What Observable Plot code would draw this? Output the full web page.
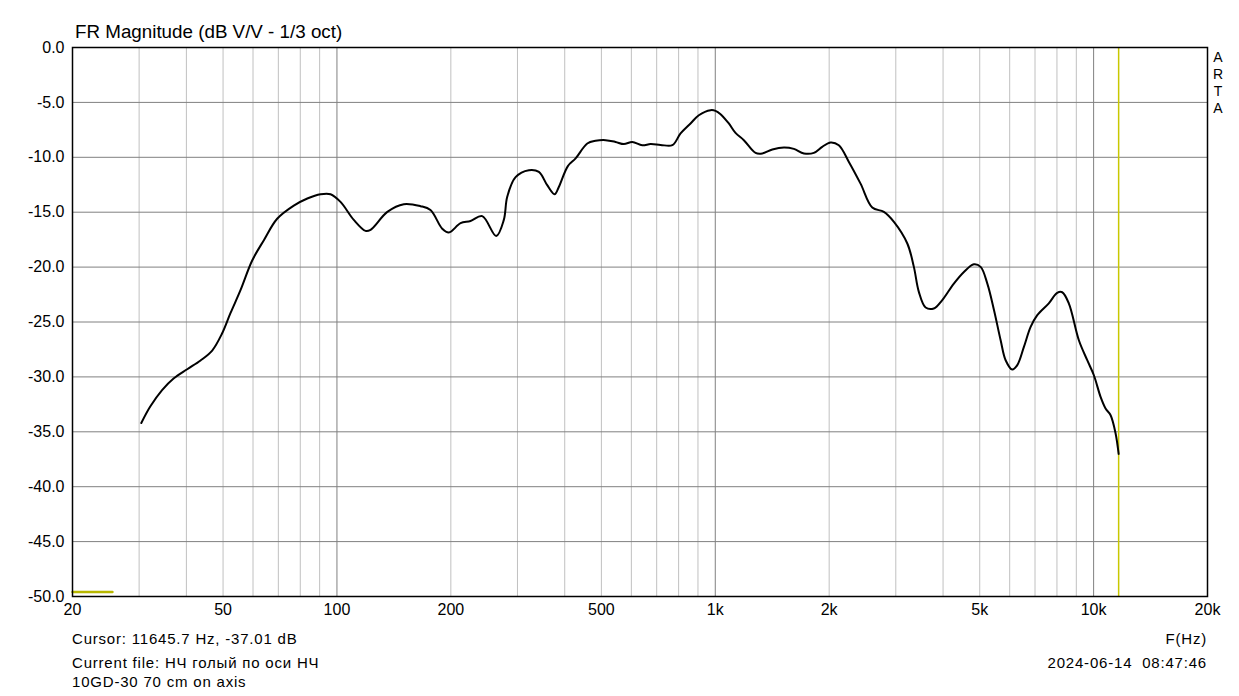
<!DOCTYPE html>
<html>
<head>
<meta charset="utf-8">
<script src="https://cdn.jsdelivr.net/npm/d3@7"></script>
<script src="https://cdn.jsdelivr.net/npm/@observablehq/plot@0.6"></script>
<style>
  html, body { margin: 0; padding: 0; background: #fff; }
  #wrap { position: relative; width: 1239px; height: 696px; font-family: "Liberation Sans", Arial, sans-serif; color: #000; }
  #wrap svg { position: absolute; left: 0; top: 0; }
  .t { position: absolute; white-space: nowrap; line-height: 1; }
  .f { font-size: 15px; letter-spacing: 0.8px; }
</style>
</head>
<body>
<div id="wrap">
  <div class="t" style="left:75px; top:23px; font-size:18.8px;">FR Magnitude (dB V/V - 1/3 oct)</div>
  <div class="t" style="left:1212px; top:49px; font-size:14px; width:12px; text-align:center; line-height:17px;">A<br>R<br>T<br>A</div>
  <div class="t f" style="left:72px; top:631px;">Cursor: 11645.7 Hz, -37.01 dB</div>
  <div class="t f" style="left:72px; top:655px;">Current file: НЧ голый по оси НЧ</div>
  <div class="t f" style="left:72px; top:674px;">10GD-30 70 cm on axis</div>
  <div class="t f" style="right:32px; top:631px;">F(Hz)</div>
  <div class="t f" style="right:32px; top:655px;">2024-06-14&nbsp;&nbsp;08:47:46</div>
</div>
<script>
const freqHz = [30.4, 32.1, 34.5, 37.0, 40.2, 43.6, 46.8, 49.7, 52.3, 55.6, 59.7, 64.1, 69.5, 76.9, 83.5, 90.5, 96.2, 102.2, 110.8, 119.0, 122.7, 135.9, 150.2, 166.3, 176.7, 189.8, 197.6, 212.2, 225.5, 242.1, 263.6, 276.1, 281.9, 296.6, 321.6, 341.8, 359.6, 376, 385.9, 407.7, 427.4, 458.9, 482.6, 513, 545, 573.4, 603.4, 641, 674.6, 716.8, 769.8, 809.6, 860.3, 904.8, 971.7, 1001.6, 1032.7, 1086, 1131, 1190, 1278, 1331, 1415, 1519, 1613, 1715, 1822, 1917, 2017, 2121, 2255, 2421, 2600, 2790, 2966, 3218, 3349, 3452, 3597, 3781, 3981, 4272, 4541, 4825, 5028, 5237, 5453, 5679, 5854, 6096, 6284, 6543, 6816, 7097, 7613, 8012, 8260, 8599, 9142, 9620, 10016, 10433, 10755, 11090, 11432, 11645.7];
const magDb = [-34.2, -32.7, -31.2, -30.15, -29.3, -28.5, -27.6, -26.05, -24.2, -22.1, -19.4, -17.55, -15.6, -14.4, -13.75, -13.36, -13.36, -14.06, -15.7, -16.7, -16.6, -14.97, -14.27, -14.45, -14.8, -16.5, -16.85, -16.0, -15.8, -15.36, -17.16, -15.7, -13.6, -11.8, -11.17, -11.33, -12.54, -13.36, -12.7, -10.8, -10.1, -8.74, -8.5, -8.44, -8.6, -8.8, -8.6, -8.9, -8.8, -8.87, -8.9, -7.83, -6.92, -6.17, -5.71, -5.77, -6.07, -6.92, -7.78, -8.44, -9.6, -9.65, -9.29, -9.1, -9.23, -9.65, -9.6, -9.05, -8.65, -8.9, -10.42, -12.4, -14.57, -14.97, -15.88, -17.85, -19.98, -22.26, -23.68, -23.77, -23.0, -21.5, -20.44, -19.74, -19.98, -21.5, -23.9, -26.66, -28.48, -29.33, -28.93, -27.27, -25.45, -24.38, -23.3, -22.35, -22.29, -23.3, -26.66, -28.48, -29.85, -31.82, -32.88, -33.49, -35.15, -37.01];

const xTicks = [20, 50, 100, 200, 500, 1000, 2000, 5000, 10000, 20000];
const xTickLabels = ["20", "50", "100", "200", "500", "1k", "2k", "5k", "10k", "20k"];
const yTicks = [0, -5, -10, -15, -20, -25, -30, -35, -40, -45, -50];
const minorGridHz = [30, 40, 50, 60, 70, 80, 90, 200, 300, 400, 500, 600, 700, 800, 900, 2000, 3000, 4000, 5000, 6000, 7000, 8000, 9000];
const decadeGridHz = [100, 1000, 10000];
const cursorHz = [11645.7];
const markerHz = [20, 25.5];
const markerDb = [-49.6, -49.6];

const curve = freqHz.map((f, i) => ({f, db: magDb[i]}));
const marker = markerHz.map((f, i) => ({f, db: markerDb[i]}));
const xLabels = xTicks.map((f, i) => ({f, label: xTickLabels[i]}));

const chart = Plot.plot({
  width: 1239,
  height: 696,
  marginLeft: 72,
  marginRight: 32,
  marginTop: 47,
  marginBottom: 100,
  style: {fontFamily: "'Liberation Sans', Arial, sans-serif", fontSize: "16px", color: "#000", background: "transparent"},
  x: {type: "log", domain: [20, 20000], axis: null},
  y: {domain: [-50, 0]},
  marks: [
    Plot.ruleX(minorGridHz, {stroke: "#c0c0c0", strokeWidth: 1}),
    Plot.ruleX(decadeGridHz, {stroke: "#808080", strokeWidth: 1}),
    Plot.ruleY(yTicks, {stroke: "#808080", strokeWidth: 1}),
    Plot.ruleX(cursorHz, {stroke: "#c8c800", strokeWidth: 1.5}),
    Plot.line(marker, {x: "f", y: "db", stroke: "#b8b800", strokeWidth: 2.5}),
    Plot.line(curve, {x: "f", y: "db", stroke: "#000", strokeWidth: 2, curve: "catmull-rom"}),
    Plot.frame({stroke: "#000", strokeWidth: 1.5}),
    Plot.text(xLabels, {x: "f", text: "label", frameAnchor: "bottom", dy: 18, fontSize: 16, fill: "#000"}),
    Plot.axisY({ticks: yTicks, tickSize: 0, tickPadding: 8, label: null,
      tickFormat: d => d.toFixed(1), fontSize: 16})
  ]
});
document.getElementById("wrap").prepend(chart);
</script>
</body>
</html>
